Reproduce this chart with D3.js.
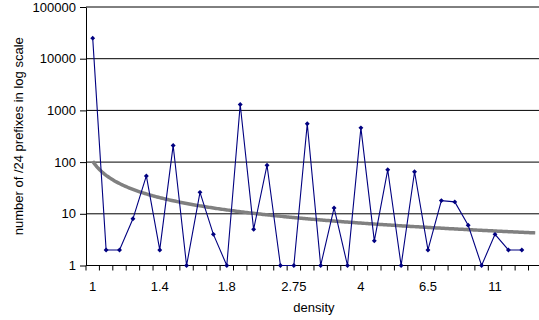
<!DOCTYPE html>
<html>
<head>
<meta charset="utf-8">
<script src="https://cdn.jsdelivr.net/npm/d3@7"></script>
<style>
  html, body { margin: 0; padding: 0; background: #fff; }
  svg { display: block; }
  text { font-family: "Liberation Sans", Arial, sans-serif; font-size: 13px; fill: #000; }
</style>
</head>
<body>
<svg id="chart" width="539" height="320"></svg>
<script>
// ---- data ----
const categories = [1,2,3,4,5,6,7,8,9,10,11,12,13,14,15,16,17,18,19,20,21,22,23,24,25,26,27,28,29,30,31,32,33,34];
const counts = [25000,2,2,8,54,2,210,1,26,4,1,1300,5,87,1,1,550,1,13,1,460,3,71,1,65,2,18,17,6,1,4,2,2,null];
const tickLabels = ["1","1.4","1.8","2.75","4","6.5","11"];
const tickLabelCategories = [1,6,11,16,21,26,31];
const yTicks = [1,10,100,1000,10000,100000];
const trendA = 104, trendB = -0.905;   // power trend y = a * x^b
const xTitle = "density";
const yTitle = "number of /24 prefixes in log scale";

// ---- layout ----
const W = 539, H = 320;
const mLeft = 86, mTop = 7, mBottom = 265.5;
const band = 13.41;
const mRight = mLeft + band * categories.length;

const svg = d3.select("#chart");

const x = d3.scaleBand().domain(categories).range([mLeft, mRight]).padding(0);
const xc = c => x(c) + x.bandwidth() / 2;
const xLin = d3.scaleLinear().domain([0.5, categories.length + 0.5]).range([mLeft, mRight]);
const y = d3.scaleLog().domain([1, 100000]).range([mBottom, mTop]);

// gridlines
svg.append("g").selectAll("line").data(yTicks.slice(1)).join("line")
  .attr("x1", mLeft).attr("x2", W)
  .attr("y1", d => y(d)).attr("y2", d => y(d))
  .attr("stroke", "#000").attr("stroke-width", 1);

// y axis
const yAxis = d3.axisLeft(y).tickValues(yTicks).tickFormat(d3.format("d"))
  .tickSize(6).tickSizeOuter(0).tickPadding(4);
const gy = svg.append("g").attr("transform", `translate(${mLeft},0)`).call(yAxis);
gy.select(".domain").attr("stroke", "#000");
gy.selectAll(".tick line").attr("stroke", "#000");
gy.selectAll("text").attr("font-size", 13).attr("font-family", "Liberation Sans, Arial, sans-serif").attr("fill", "#000");

// x axis line + tick marks at category boundaries
svg.append("line").attr("x1", mLeft).attr("x2", W).attr("y1", mBottom).attr("y2", mBottom)
  .attr("stroke", "#000").attr("stroke-width", 1);
svg.append("g").selectAll("line").data(categories).join("line")
  .attr("x1", d => x(d)).attr("x2", d => x(d))
  .attr("y1", mBottom).attr("y2", mBottom + 5)
  .attr("stroke", "#000");
svg.append("g").selectAll("text").data(tickLabels).join("text")
  .attr("x", (d, i) => xc(tickLabelCategories[i]))
  .attr("y", 290.5)
  .attr("text-anchor", "middle")
  .text(d => d);

// titles
svg.append("text").attr("x", (mLeft + mRight) / 2).attr("y", 311.5)
  .attr("text-anchor", "middle").text(xTitle);
svg.append("text")
  .attr("transform", `translate(22.5,${(mTop + mBottom) / 2}) rotate(-90)`)
  .attr("text-anchor", "middle").text(yTitle);

// trend line
const trendXs = d3.range(1, categories.length + 0.001, 0.1);
svg.append("path")
  .datum(trendXs)
  .attr("fill", "none").attr("stroke", "#808080").attr("stroke-width", 3.5)
  .attr("d", d3.line().x(d => xLin(d)).y(d => y(trendA * Math.pow(d, trendB))));

// data line
const pts = categories.map((c, i) => ({c, v: counts[i]})).filter(d => d.v != null);
svg.append("path")
  .datum(pts)
  .attr("fill", "none").attr("stroke", "#000080").attr("stroke-width", 1.1)
  .attr("d", d3.line().x(d => xc(d.c)).y(d => y(d.v)));

// markers
svg.append("g").selectAll("path").data(pts).join("path")
  .attr("transform", d => `translate(${xc(d.c)},${y(d.v)}) rotate(45)`)
  .attr("d", d3.symbol().type(d3.symbolSquare).size(12))
  .attr("fill", "#000080");
</script>
</body>
</html>
